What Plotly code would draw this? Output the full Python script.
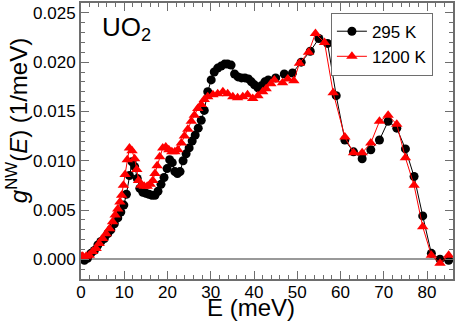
import plotly.graph_objects as go

# 295 K
e_295 = [0, 0.8, 1.5, 2.3, 3.1, 3.9, 4.6, 5.4, 6.2, 6.9, 7.7, 8.5, 9.2, 9.9, 10.5,
         11.2, 11.8, 12.4, 13.0, 13.6, 14.3, 15.0, 15.7, 16.4, 17.1, 17.8, 18.5,
         19.2, 19.9, 20.5, 21.1, 21.7, 22.3, 22.9, 23.6, 24.3, 25.0, 25.7, 26.4,
         27.1, 27.8, 28.5, 29.3, 30.1, 30.8, 31.6, 32.4, 33.2, 33.9, 34.7, 35.5,
         36.3, 37.1, 37.9, 38.7, 39.4, 40.1, 40.9, 41.7, 42.5, 43.3, 45.0, 47.0,
         48.9, 50.9, 53.0, 55.0, 57.0, 59.0, 61.0, 63.0, 65.0, 67.0, 69.0, 71.0,
         73.0, 75.0, 77.0, 79.0, 81.0, 83.0, 85.0]
g_295 = [0.0001, -0.0001, 0.0001, 0.0006, 0.0009, 0.00145, 0.0018, 0.0021, 0.0026,
         0.0030, 0.0036, 0.0042, 0.0048, 0.0055, 0.0066, 0.0085, 0.0099, 0.0094,
         0.0082, 0.0072, 0.0068, 0.0067, 0.0066, 0.0065, 0.0065, 0.0069, 0.0076,
         0.0083, 0.0092, 0.0101, 0.0098, 0.0089, 0.0087, 0.0089, 0.0100, 0.0107,
         0.0113, 0.0120, 0.0126, 0.0133, 0.0141, 0.0151, 0.0170, 0.0182, 0.0190,
         0.0194, 0.0196, 0.0198, 0.0198, 0.0197, 0.0188, 0.0185, 0.0184, 0.0184,
         0.0183, 0.0180, 0.0177, 0.0174, 0.0176, 0.0180, 0.0182, 0.0184, 0.0188,
         0.0189, 0.0200, 0.0211, 0.0224, 0.0219, 0.0166, 0.0121, 0.0109, 0.0102,
         0.0111, 0.0121, 0.0140, 0.0133, 0.0112, 0.0084, 0.0044, 0.0006, 0.0000,
         -0.0001]

# 1200 K
e_1200 = [0, 0.4, 1.2, 1.9, 2.7, 3.5, 4.2, 5.0, 5.8, 6.6, 7.3, 7.9, 8.5, 9.0, 9.4,
          9.8, 10.2, 10.7, 11.2, 11.8, 12.4, 12.9, 13.3, 13.9, 14.6, 15.3, 16.0,
          16.6, 17.1, 17.6, 18.2, 18.9, 19.6, 20.3, 21.0, 21.7, 22.4, 23.2, 23.9,
          24.7, 25.5, 26.2, 27.0, 27.8, 28.5, 29.3, 30.5, 31.6, 32.8, 33.9, 35.1,
          36.2, 37.4, 38.5, 39.7, 40.9, 42.0, 42.8, 43.9, 44.7, 46.6, 47.8, 49.2,
          50.5, 52.6, 54.2, 56.3, 58.3, 61.0, 63.0, 65.0, 67.0, 69.0, 71.0, 73.0,
          75.0, 77.0, 79.0, 81.0, 83.0, 85.0]
g_1200 = [0.0003, 0.0003, 0.0003, 0.0004, 0.0008, 0.0011, 0.0016, 0.0021, 0.0026,
          0.0031, 0.0038, 0.0045, 0.0051, 0.0058, 0.0065, 0.0075, 0.0086, 0.0101,
          0.0113, 0.0110, 0.0102, 0.0091, 0.0080, 0.0075, 0.0074, 0.0074, 0.0076,
          0.0080, 0.0087, 0.0095, 0.0104, 0.0113, 0.0114, 0.0111, 0.0109, 0.0109,
          0.0111, 0.0118, 0.0125, 0.0132, 0.0140, 0.0146, 0.0153, 0.0157, 0.0162,
          0.0165, 0.0167, 0.0168, 0.0170, 0.0168, 0.0165, 0.0164, 0.0165, 0.0167,
          0.0163, 0.0166, 0.0170, 0.0173, 0.0178, 0.0182, 0.0179, 0.0183, 0.0181,
          0.0199, 0.0210, 0.0229, 0.0220, 0.0169, 0.0124, 0.0108, 0.0108, 0.0118,
          0.0140, 0.0146, 0.0137, 0.0103, 0.0075, 0.0033, 0.0004, -0.0004, 0.0004]

FONT = 'Liberation Sans, Arial, sans-serif'
FRAME = '#6e6e6e'

_AXIS_STYLE = dict(
    showline=True,
    linecolor=FRAME,
    linewidth=2,
    mirror='allticks',
    ticks='inside',
    ticklen=8,
    tickwidth=1,
    tickcolor=FRAME,
    showgrid=False,
    automargin=False,
    tickfont=dict(size=17, color='black'),
)

fig = go.Figure()
fig.add_trace(go.Scatter(
    x=e_295, y=g_295, mode='lines+markers', name='295 K',
    line=dict(color='black', width=1),
    marker=dict(symbol='circle', size=9, color='black'),
))
fig.add_trace(go.Scatter(
    x=e_1200, y=g_1200, mode='lines+markers', name='1200 K',
    line=dict(color='red', width=1),
    marker=dict(symbol='triangle-up', size=10, color='red'),
))

fig.update_xaxes(
    range=[0, 86], dtick=10, tick0=0,
    minor=dict(ticks='inside', dtick=2, ticklen=4, tickcolor=FRAME),
    zeroline=False, ticklabelstandoff=-3,
    **_AXIS_STYLE,
)
fig.update_yaxes(
    range=[-0.002, 0.026], dtick=0.005, tick0=0, tickformat='.3f',
    minor=dict(ticks='inside', dtick=0.001, ticklen=4, tickcolor=FRAME),
    zeroline=True, zerolinecolor='#999999', zerolinewidth=2,
    **_AXIS_STYLE,
)

# axis titles as annotations so the margins stay fixed
fig.add_annotation(
    x=0.457, y=-0.103, xref='paper', yref='paper', xanchor='center', yanchor='middle',
    text='E (meV)', showarrow=False, font=dict(size=24, color='black'),
)
fig.add_annotation(
    x=-0.172, y=0.572, xref='paper', yref='paper', xanchor='center', yanchor='middle',
    text='<i>g</i><sup>NW</sup>(<i>E</i>) (1/meV)', textangle=-90, showarrow=False,
    font=dict(size=24, color='black'),
)
fig.add_annotation(
    x=0.052, y=0.975, xref='paper', yref='paper', xanchor='left', yanchor='top',
    text='UO<sub>2</sub>', showarrow=False, font=dict(size=26, color='black'),
)

fig.update_layout(
    width=457, height=323,
    margin=dict(l=81, r=4, t=3, b=44),
    paper_bgcolor='white', plot_bgcolor='white',
    font=dict(family=FONT, color='black'),
    showlegend=True,
    legend=dict(
        x=0.946, y=0.965, xanchor='right', yanchor='top',
        bordercolor=FRAME, borderwidth=1, bgcolor='white',
        font=dict(size=17), itemwidth=30,
        tracegroupgap=0,
    ),
)

# drop the default page margin so the figure sits at the window's corner
fig.write_html('out.html', config={'displayModeBar': False},
               post_script="document.body.style.margin='0';")
